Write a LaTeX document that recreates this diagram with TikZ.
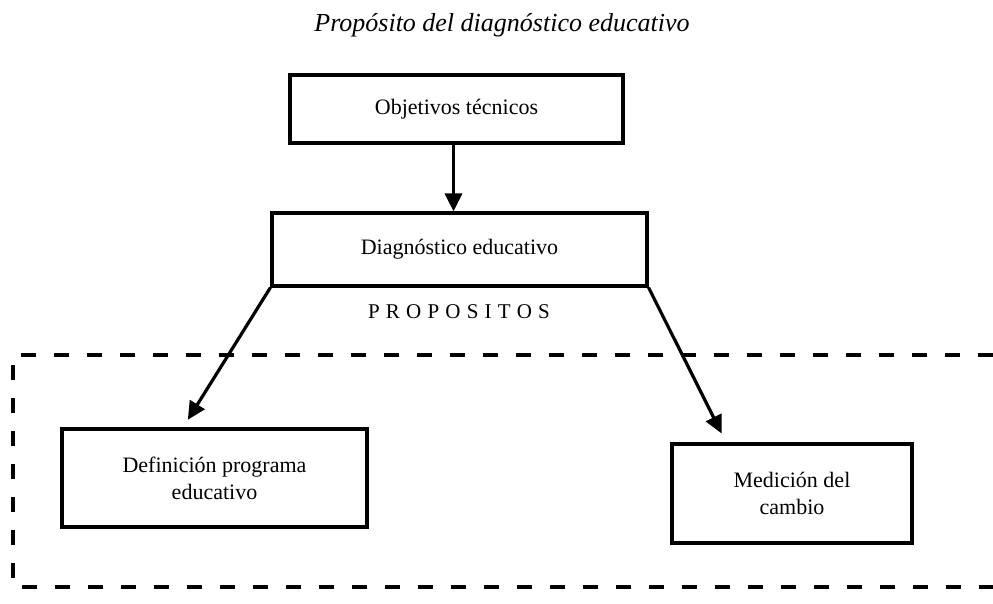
\documentclass[tikz,border=0pt]{standalone}
\usepackage{fontspec}
\setmainfont{Liberation Serif}
\usetikzlibrary{arrows.meta,calc}
\newcommand{\lsp}{\kern6.2pt}
\begin{document}
\begin{tikzpicture}[x=1pt,y=-1pt,
  box/.style={draw, line width=3.2pt, inner sep=0pt, align=center, font=\fontsize{22}{27}\selectfont},
  arr/.style={line width=3.2pt, -{Triangle[length=18pt,width=17pt]}},
  dashbox/.style={line width=3.2pt, dash pattern=on 15pt off 18pt}]
\useasboundingbox (0,0) rectangle (993,603);
\fill[white] (0,0) rectangle (993,603);
\node[font=\fontsize{26}{30}\selectfont\itshape] (title) at (502,25) {Propósito del diagnóstico educativo};
\node[box, minimum width=333pt, minimum height=68pt] (obj) at (456.5,109) {Objetivos técnicos};
\node[box, minimum width=375pt, minimum height=73pt] (diag) at (459.5,249.5) {Diagnóstico educativo};
\node[font=\fontsize{21}{25}\selectfont] (prop) at (459,312) {P\lsp R\lsp O\lsp P\lsp O\lsp S\lsp I\lsp T\lsp O\lsp S};
\node[box, minimum width=305pt, minimum height=98pt] (def) at (214.5,478) {Definición programa\\educativo};
\node[box, minimum width=240pt, minimum height=99pt] (med) at (792,493.5) {Medición del\\cambio};
\draw[arr] ([xshift=-3pt]obj.south) -- ([xshift=-3pt]obj.south |- diag.north);
\draw[arr, shorten >=9pt] (diag.south west) -- ($(def.north west)!0.398!(def.north east)$);
\draw[arr, shorten >=10pt] (diag.south east) -- ($(med.north west)!0.229!(med.north east)$);
\coordinate (dTR) at (993,355);
\coordinate (dTL) at (13,355);
\coordinate (dBL) at (13,587);
\coordinate (dBR) at (993,587);
\draw[dashbox] (dTR) -- (dTL) -- (dBL) -- (dBR);
\end{tikzpicture}
\end{document}
